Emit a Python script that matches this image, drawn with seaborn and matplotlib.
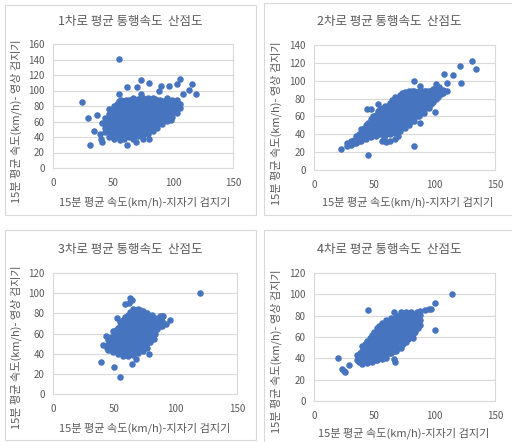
import pandas as pd
import matplotlib.pyplot as plt
import seaborn as sns
from matplotlib.patches import Rectangle

# lane 1..4 : (loop detector speed, video detector speed), km/h
# *_pts = outliers and blob outline, *_core = points inside the dense blob
lane1_pts = [
    (24, 85), (29, 64), (31, 30), (34, 48), (37, 68), (41, 34), (40, 37), (41, 58), (39, 44),
    (55, 141), (62, 105), (55, 96), (70, 105), (73, 113), (80, 110), (73, 95), (90, 106),
    (88, 99), (97, 106), (103, 108), (106, 115), (116, 109), (113, 101), (119, 95), (108, 95),
    (98, 62), (62, 30), (69, 33), (75, 37), (80, 37), (56, 36),
    (43, 46), (43, 52), (43, 58), (43, 64),
    (47, 40), (47, 46), (47, 52), (47, 58), (47, 64), (47, 70), (47, 76),
    (51, 38), (51, 44), (51, 50), (51, 56), (51, 62), (51, 68), (51, 74), (51, 80),
    (55, 41), (55, 47), (55, 53), (55, 59), (55, 65), (55, 71), (55, 77), (55, 83), (55, 87),
    (59, 38), (59, 44), (59, 50), (59, 56), (59, 62), (59, 68), (59, 74), (59, 80), (59, 86),
    (63, 40), (63, 46), (63, 52), (63, 58), (63, 64), (63, 70), (63, 76), (63, 82), (63, 88),
    (67, 38), (67, 44), (67, 50), (67, 56), (67, 62), (67, 68), (67, 74), (67, 80), (67, 86), (67, 90),
    (71, 41), (71, 47), (71, 53), (71, 59), (71, 65), (71, 71), (71, 77), (71, 83), (71, 89),
    (75, 42), (75, 48), (75, 54), (75, 60), (75, 66), (75, 72), (75, 78), (75, 84), (75, 90),
    (79, 44), (79, 50), (79, 56), (79, 62), (79, 68), (79, 74), (79, 80), (79, 86), (79, 90),
    (83, 48), (83, 54), (83, 60), (83, 66), (83, 72), (83, 78), (83, 84), (83, 90),
    (87, 52), (87, 58), (87, 64), (87, 70), (87, 76), (87, 82), (87, 88),
    (91, 57), (91, 63), (91, 69), (91, 75), (91, 81), (91, 87),
    (95, 61), (95, 67), (95, 73), (95, 79), (95, 85), (95, 90),
    (99, 66), (99, 72), (99, 78), (99, 84), (99, 88),
    (103, 71), (103, 77), (103, 83), (103, 88),
    (106, 77), (106, 83),
]
lane1_core = [
    (45, 49), (45, 55), (45, 61),
    (49, 43), (49, 49), (49, 55), (49, 61), (49, 67), (49, 73),
    (53, 41), (53, 47), (53, 53), (53, 59), (53, 65), (53, 71), (53, 77), (53, 83),
    (57, 41), (57, 47), (57, 53), (57, 59), (57, 65), (57, 71), (57, 77), (57, 83), (57, 88),
    (61, 41), (61, 47), (61, 53), (61, 59), (61, 65), (61, 71), (61, 77), (61, 83), (61, 88),
    (65, 41), (65, 47), (65, 53), (65, 59), (65, 65), (65, 71), (65, 77), (65, 83), (65, 88),
    (69, 44), (69, 50), (69, 56), (69, 62), (69, 68), (69, 74), (69, 80), (69, 86),
    (73, 45), (73, 51), (73, 57), (73, 63), (73, 69), (73, 75), (73, 81), (73, 87),
    (77, 47), (77, 53), (77, 59), (77, 65), (77, 71), (77, 77), (77, 83), (77, 88),
    (81, 51), (81, 57), (81, 63), (81, 69), (81, 75), (81, 81), (81, 87),
    (85, 55), (85, 61), (85, 67), (85, 73), (85, 79), (85, 85), (85, 89),
    (89, 60), (89, 66), (89, 72), (89, 78), (89, 84), (89, 88),
    (93, 64), (93, 70), (93, 76), (93, 82), (93, 87),
    (97, 69), (97, 75), (97, 81), (97, 86),
    (101, 74), (101, 80), (101, 85),
    (105, 80),
]

lane2_pts = [
    (22, 23), (45, 17), (83, 27), (88, 53), (100, 65), (131, 122), (134, 113), (121, 116),
    (122, 98), (115, 106), (108, 108), (110, 97), (83, 100), (101, 96), (104, 93), (108, 89),
    (110, 88), (101, 85), (44, 68), (47, 68), (53, 74), (88, 94),
    (56, 33), (60, 31), (63, 33), (67, 35), (58, 36), (70, 38),
    (27, 27), (27, 30), (31, 28), (31, 32),
    (35, 30), (35, 34), (35, 38),
    (39, 33), (39, 37), (39, 42), (39, 46),
    (43, 35), (43, 40), (43, 45), (43, 50),
    (47, 37), (47, 42), (47, 47), (47, 52), (47, 57),
    (51, 38), (51, 43), (51, 48), (51, 53), (51, 58), (51, 62),
    (55, 40), (55, 45), (55, 50), (55, 55), (55, 60), (55, 65), (55, 68),
    (59, 39), (59, 44), (59, 49), (59, 54), (59, 59), (59, 64), (59, 69), (59, 72),
    (63, 40), (63, 45), (63, 50), (63, 55), (63, 60), (63, 65), (63, 70), (63, 75),
    (67, 42), (67, 47), (67, 52), (67, 57), (67, 62), (67, 67), (67, 72), (67, 77), (67, 82),
    (71, 44), (71, 49), (71, 54), (71, 59), (71, 64), (71, 69), (71, 74), (71, 79), (71, 84),
    (75, 47), (75, 52), (75, 57), (75, 62), (75, 67), (75, 72), (75, 77), (75, 82), (75, 87),
    (79, 50), (79, 55), (79, 60), (79, 65), (79, 70), (79, 75), (79, 80), (79, 85), (79, 89),
    (83, 55), (83, 60), (83, 65), (83, 70), (83, 75), (83, 80), (83, 85), (83, 89),
    (87, 60), (87, 65), (87, 70), (87, 75), (87, 80), (87, 85), (87, 89),
    (91, 64), (91, 69), (91, 74), (91, 79), (91, 84), (91, 89),
    (95, 69), (95, 74), (95, 79), (95, 84), (95, 89),
    (99, 76), (99, 81), (99, 86), (99, 91),
    (103, 82), (103, 87), (103, 92),
    (107, 86), (107, 90),
]
lane2_core = [
    (29, 29), (33, 30), (33, 34), (37, 32), (37, 36), (37, 40),
    (41, 36), (41, 41), (41, 46),
    (45, 38), (45, 43), (45, 48), (45, 53),
    (49, 40), (49, 45), (49, 50), (49, 55), (49, 60),
    (53, 42), (53, 47), (53, 52), (53, 57), (53, 62), (53, 66),
    (57, 42), (57, 47), (57, 52), (57, 57), (57, 62), (57, 67), (57, 70),
    (61, 42), (61, 47), (61, 52), (61, 57), (61, 62), (61, 67), (61, 72),
    (65, 43), (65, 48), (65, 53), (65, 58), (65, 63), (65, 68), (65, 73), (65, 78),
    (69, 46), (69, 51), (69, 56), (69, 61), (69, 66), (69, 71), (69, 76), (69, 81),
    (73, 48), (73, 53), (73, 58), (73, 63), (73, 68), (73, 73), (73, 78), (73, 83), (73, 86),
    (77, 51), (77, 56), (77, 61), (77, 66), (77, 71), (77, 76), (77, 81), (77, 86),
    (81, 55), (81, 60), (81, 65), (81, 70), (81, 75), (81, 80), (81, 85), (81, 88),
    (85, 60), (85, 65), (85, 70), (85, 75), (85, 80), (85, 85),
    (89, 64), (89, 69), (89, 74), (89, 79), (89, 84), (89, 88),
    (93, 69), (93, 74), (93, 79), (93, 84), (93, 88),
    (97, 74), (97, 79), (97, 84), (97, 89),
    (101, 80), (101, 85), (101, 90),
    (105, 85), (105, 89),
]

lane3_pts = [
    (120, 100), (39, 32), (50, 27), (55, 17), (64, 30), (68, 35), (78, 40),
    (59, 89), (62, 90), (64, 93), (63, 95), (52, 75), (41, 49), (43, 58),
    (82, 55), (95, 73), (92, 69), (87, 77), (90, 77), (81, 78), (44, 46), (47, 44),
    (45, 44), (45, 49), (45, 54),
    (49, 42), (49, 47), (49, 52), (49, 57), (49, 62),
    (53, 40), (53, 45), (53, 50), (53, 55), (53, 60), (53, 65),
    (57, 38), (57, 43), (57, 48), (57, 53), (57, 58), (57, 63), (57, 68), (57, 73),
    (61, 38), (61, 43), (61, 48), (61, 53), (61, 58), (61, 63), (61, 68), (61, 73), (61, 78),
    (65, 39), (65, 44), (65, 49), (65, 54), (65, 59), (65, 64), (65, 69), (65, 74), (65, 79), (65, 84),
    (69, 41), (69, 46), (69, 51), (69, 56), (69, 61), (69, 66), (69, 71), (69, 76), (69, 81), (69, 84),
    (73, 43), (73, 48), (73, 53), (73, 58), (73, 63), (73, 68), (73, 73), (73, 78), (73, 82),
    (77, 46), (77, 51), (77, 56), (77, 61), (77, 66), (77, 71), (77, 76), (77, 80),
    (81, 55), (81, 60), (81, 65), (81, 70), (81, 75),
    (85, 64), (85, 69), (85, 74),
    (89, 67), (89, 72), (89, 77),
]
lane3_core = [
    (47, 47), (47, 52), (47, 57),
    (51, 44), (51, 49), (51, 54), (51, 59), (51, 63),
    (55, 42), (55, 47), (55, 52), (55, 57), (55, 62), (55, 67), (55, 71),
    (59, 41), (59, 46), (59, 51), (59, 56), (59, 61), (59, 66), (59, 71), (59, 76),
    (63, 41), (63, 46), (63, 51), (63, 56), (63, 61), (63, 66), (63, 71), (63, 76), (63, 81),
    (67, 43), (67, 48), (67, 53), (67, 58), (67, 63), (67, 68), (67, 73), (67, 78), (67, 83),
    (71, 45), (71, 50), (71, 55), (71, 60), (71, 65), (71, 70), (71, 75), (71, 80), (71, 83),
    (75, 47), (75, 52), (75, 57), (75, 62), (75, 67), (75, 72), (75, 77), (75, 80),
    (79, 52), (79, 57), (79, 62), (79, 67), (79, 72), (79, 77),
    (83, 60), (83, 65), (83, 70), (83, 75),
    (87, 67), (87, 72),
]

lane4_pts = [
    (20, 40), (23, 30), (25, 28), (26, 27), (29, 34), (45, 85), (66, 83), (114, 100),
    (100, 92), (100, 67), (82, 59), (51, 38), (60, 40), (67, 37), (66, 39), (40, 35), (37, 37),
    (85, 83), (88, 84), (92, 85), (95, 86), (97, 86),
    (36, 38), (36, 43),
    (40, 37), (40, 42), (40, 47), (40, 52),
    (44, 36), (44, 41), (44, 46), (44, 51), (44, 56),
    (48, 37), (48, 42), (48, 47), (48, 52), (48, 57), (48, 62),
    (52, 38), (52, 43), (52, 48), (52, 53), (52, 58), (52, 63), (52, 68),
    (56, 39), (56, 44), (56, 49), (56, 54), (56, 59), (56, 64), (56, 69), (56, 73),
    (60, 43), (60, 48), (60, 53), (60, 58), (60, 63), (60, 68), (60, 73), (60, 76),
    (64, 45), (64, 50), (64, 55), (64, 60), (64, 65), (64, 70), (64, 75), (64, 78),
    (68, 47), (68, 52), (68, 57), (68, 62), (68, 67), (68, 72), (68, 77), (68, 80),
    (72, 50), (72, 55), (72, 60), (72, 65), (72, 70), (72, 75), (72, 80), (72, 83),
    (76, 55), (76, 60), (76, 65), (76, 70), (76, 75), (76, 80), (76, 83),
    (80, 60), (80, 65), (80, 70), (80, 75), (80, 80), (80, 83),
    (84, 65), (84, 70), (84, 75), (84, 80),
    (88, 71), (88, 76), (88, 81),
]
lane4_core = [
    (38, 40), (38, 45),
    (42, 39), (42, 44), (42, 49), (42, 53),
    (46, 39), (46, 44), (46, 49), (46, 54), (46, 59),
    (50, 40), (50, 45), (50, 50), (50, 55), (50, 60), (50, 65),
    (54, 41), (54, 46), (54, 51), (54, 56), (54, 61), (54, 66), (54, 70),
    (58, 42), (58, 47), (58, 52), (58, 57), (58, 62), (58, 67), (58, 72),
    (62, 45), (62, 50), (62, 55), (62, 60), (62, 65), (62, 70), (62, 75),
    (66, 47), (66, 52), (66, 57), (66, 62), (66, 67), (66, 72), (66, 77),
    (70, 50), (70, 55), (70, 60), (70, 65), (70, 70), (70, 75), (70, 80),
    (74, 53), (74, 58), (74, 63), (74, 68), (74, 73), (74, 78), (74, 82),
    (78, 58), (78, 63), (78, 68), (78, 73), (78, 78), (78, 82),
    (82, 63), (82, 68), (82, 73), (82, 78), (82, 82),
    (86, 68), (86, 73), (86, 78),
]

titles = ["1차로 평균 통행속도  산점도", "2차로 평균 통행속도  산점도",
          "3차로 평균 통행속도  산점도", "4차로 평균 통행속도  산점도"]
y_max = [160, 140, 120, 120]
x_ticks = [0, 50, 100, 150]
x_label = "15분 평균 속도(km/h)-지자기 검지기"
y_label = "15분 평균 속도(km/h)- 영상 검지기"

sns.set_style("white")
plt.rcParams["font.family"] = ["Noto Sans CJK KR", "DejaVu Sans"]

W, H = 512, 442
fig = plt.figure(figsize=(W / 100, H / 100), dpi=100)

def fx(px):
    return px / W

def fy(py):
    return 1 - py / H

# pixel layout: chart frame, plot area, title / label centres
frames = [(5, 5, 256, 215), (264, 3, 514, 215), (5, 230, 256, 440), (264, 230, 514, 444)]
plots = [(53, 44, 233, 168), (314, 45, 495, 170), (53, 273, 237, 394), (314, 273, 495, 401)]
title_pos = [(130, 22), (389, 22), (130, 249), (389, 250)]
xlab_pos = [(145, 202), (408, 202), (145, 428), (404, 433)]
ylab_pos = [(16, 121), (276, 123), (16, 347), (276, 351)]

grey = "#d9d9d9"
txt = "#595959"
blue = "#4674BE"

lanes = [lane1_pts + lane1_core, lane2_pts + lane2_core,
         lane3_pts + lane3_core, lane4_pts + lane4_core]

for i, pts in enumerate(lanes):
    x0, y0, x1, y1 = frames[i]
    fig.patches.append(Rectangle((fx(x0), fy(y1)), fx(x1 - x0), (y1 - y0) / H,
                                 transform=fig.transFigure, facecolor="none",
                                 edgecolor=grey, linewidth=0.8, zorder=-1))

    l, t, r, b = plots[i]
    ax = fig.add_axes([fx(l), fy(b), fx(r - l), (b - t) / H])
    ax.patch.set_alpha(0)
    df = pd.DataFrame(pts, columns=["loop", "video"])
    sns.scatterplot(data=df, x="loop", y="video", ax=ax, color=blue, s=22,
                    linewidth=0, zorder=3)

    ax.set_xlim(0, 150)
    ax.set_ylim(0, y_max[i])
    ax.set_xticks(x_ticks)
    ax.set_yticks(range(0, y_max[i] + 1, 20))
    ax.set_xlabel("")
    ax.set_ylabel("")
    ax.yaxis.grid(True, color=grey, linewidth=0.8)
    ax.set_axisbelow(True)
    for s in ax.spines.values():
        s.set_color(grey)
        s.set_linewidth(0.8)
    ax.tick_params(length=0, labelsize=7, colors=txt)
    ax.tick_params(axis="x", pad=7)
    ax.tick_params(axis="y", pad=6)

    fig.text(fx(title_pos[i][0]), fy(title_pos[i][1]), titles[i], ha="center",
             va="center", fontsize=9, color=txt)
    fig.text(fx(xlab_pos[i][0]), fy(xlab_pos[i][1]), x_label, ha="center",
             va="center", fontsize=8, color=txt)
    fig.text(fx(ylab_pos[i][0]), fy(ylab_pos[i][1]), y_label, ha="center",
             va="center", fontsize=8, color=txt, rotation=90)

fig.savefig("out.png", dpi=100)
plt.close(fig)
